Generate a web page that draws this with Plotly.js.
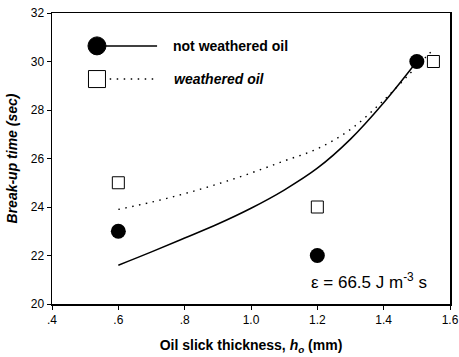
<!DOCTYPE html>
<html><head><meta charset="utf-8">
<script src="https://cdn.plot.ly/plotly-3.0.1.min.js"></script>
<style>html,body{margin:0;padding:0;background:#fff;}#chart{width:459px;height:357px;}</style>
</head><body><div id="chart"></div>
<script>
// measured points
const notWeatheredX = [0.6, 1.2, 1.5];
const notWeatheredY = [23, 22, 30];
const weatheredX = [0.6, 1.2, 1.55];
const weatheredY = [25, 24, 30];
// fitted curves
const fitNotX = [0.6, 0.7, 0.8, 0.9, 1.0, 1.1, 1.2, 1.3, 1.4, 1.5];
const fitNotY = [21.6, 22.15, 22.72, 23.3, 23.95, 24.7, 25.6, 26.8, 28.3, 30.0];
const fitWX = [0.6, 0.7, 0.8, 0.9, 1.0, 1.1, 1.2, 1.3, 1.4, 1.5, 1.55];
const fitWY = [23.9, 24.2, 24.55, 24.95, 25.4, 25.9, 26.4, 27.2, 28.4, 29.8, 30.5];
const xTickVals = [0.4, 0.6, 0.8, 1.0, 1.2, 1.4, 1.6];
const xTickText = ['.4', '.6', '.8', '1.0', '1.2', '1.4', '1.6'];
const yTickVals = [20, 22, 24, 26, 28, 30, 32];

const traces = [
  {x: fitNotX, y: fitNotY, mode: 'lines', line: {color: '#000', width: 1.5, shape: 'spline'}, hoverinfo: 'skip'},
  {x: fitWX, y: fitWY, mode: 'lines', line: {color: '#000', width: 1.4, dash: '1.5px,5.5px', shape: 'spline'}, hoverinfo: 'skip'},
  {x: notWeatheredX, y: notWeatheredY, mode: 'markers', marker: {symbol: 'circle', size: 15, color: '#000'}},
  {x: weatheredX, y: weatheredY, mode: 'markers', marker: {symbol: 'square', size: 12, color: '#fff', line: {color: '#000', width: 1}}}
];

const font = 'Liberation Sans, Arial, sans-serif';
const layout = {
  width: 459, height: 357,
  margin: {l: 52, r: 9, t: 13, b: 53},
  paper_bgcolor: '#fff', plot_bgcolor: '#fff',
  showlegend: false,
  font: {family: font, color: '#000', size: 12},
  xaxis: {
    range: [0.4, 1.6], tickvals: xTickVals, ticktext: xTickText,
    showgrid: false, zeroline: false, showline: true, linecolor: '#000', linewidth: 1.5, mirror: true,
    ticks: 'outside', ticklen: 4, tickcolor: '#000',
    tickfont: {size: 12, family: font},
    title: {text: '<b>Oil slick thickness, <i>h<sub>o</sub></i> (mm)</b>', font: {size: 14, family: font}, standoff: 14}
  },
  yaxis: {
    range: [20, 32], tickvals: yTickVals,
    showgrid: false, zeroline: false, showline: true, linecolor: '#000', linewidth: 1.5, mirror: true,
    ticks: 'outside', ticklen: 4, tickcolor: '#000',
    tickfont: {size: 12, family: font},
    title: {text: '<b><i>Break-up time (sec)</i></b>', font: {size: 14, family: font}, standoff: 10}
  },
  shapes: [
    {type: 'circle', xref: 'paper', yref: 'paper', xsizemode: 'pixel', ysizemode: 'pixel',
     xanchor: 0.113, yanchor: 0.887, x0: -9, x1: 9, y0: -9, y1: 9, fillcolor: '#000', line: {color: '#000', width: 1}},
    {type: 'line', xref: 'paper', yref: 'paper', x0: 0.13, x1: 0.264, y0: 0.887, y1: 0.887, line: {color: '#000', width: 1.5}},
    {type: 'rect', xref: 'paper', yref: 'paper', xsizemode: 'pixel', ysizemode: 'pixel',
     xanchor: 0.113, yanchor: 0.773, x0: -8.5, x1: 8.5, y0: -8.5, y1: 8.5, fillcolor: '#fff', line: {color: '#000', width: 1}},
    {type: 'line', xref: 'paper', yref: 'paper', x0: 0.145, x1: 0.264, y0: 0.773, y1: 0.773, line: {color: '#000', width: 1.4, dash: '1.5px,5.5px'}}
  ],
  annotations: [
    {xref: 'paper', yref: 'paper', x: 0.299, y: 0.887, xanchor: 'left', yanchor: 'middle', showarrow: false,
     text: '<b>not weathered oil</b>', font: {size: 14, family: font}},
    {xref: 'paper', yref: 'paper', x: 0.301, y: 0.773, xanchor: 'left', yanchor: 'middle', showarrow: false,
     text: '<b><i>weathered oil</i></b>', font: {size: 14, family: font}},
    {xref: 'paper', yref: 'paper', x: 0.646, y: 0.079, xanchor: 'left', yanchor: 'middle', showarrow: false,
     text: 'ε = 66.5 J m<sup>-3</sup> s', font: {size: 17, family: font}}
  ]
};
Plotly.newPlot('chart', traces, layout, {staticPlot: true, displayModeBar: false});
</script></body></html>
